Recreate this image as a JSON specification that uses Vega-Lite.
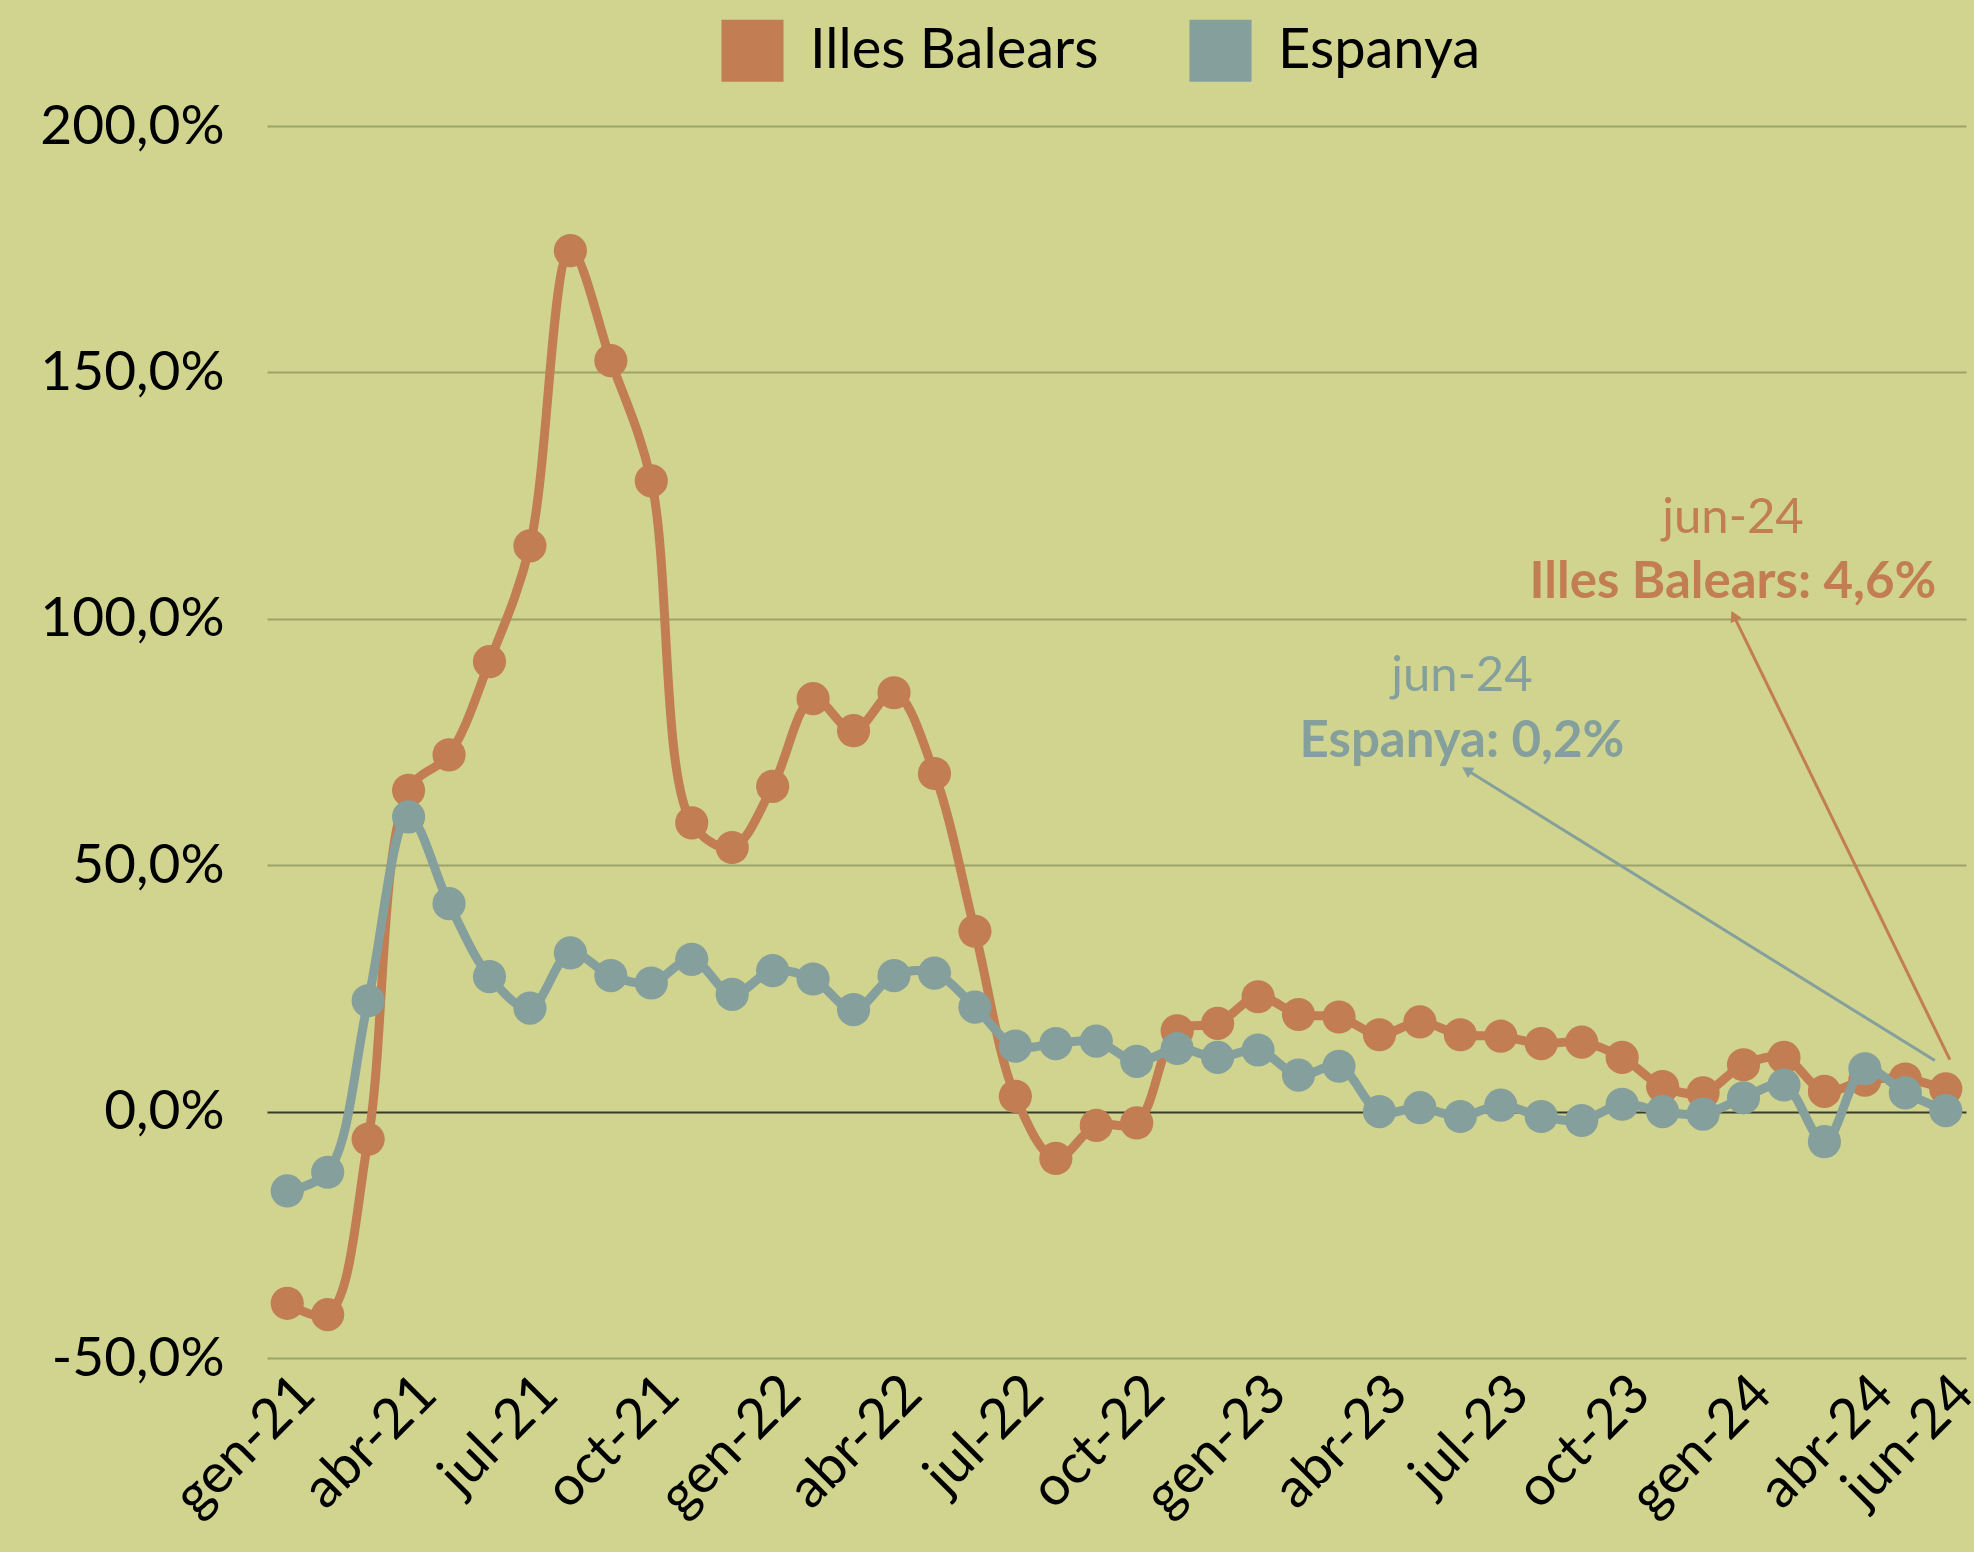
{
  "$schema": "https://vega.github.io/schema/vega-lite/v6.json",
  "background": "#D0D48E",
  "autosize": "none",
  "padding": {"left": 267, "top": 126, "right": 8, "bottom": 194},
  "width": 1699,
  "height": 1232,
  "config": {
    "view": {"stroke": null},
    "font": "Lato",
    "axis": {"labelFont": "Lato", "labelFontSize": 55, "labelColor": "#000000", "labelLimit": 0, "domain": false, "ticks": false, "title": null}
  },
  "datasets": {
    "dades": [
      {"n":0,"mes":"gen-21","serie":"Illes Balears","valor":-38.9},
      {"n":1,"mes":"feb-21","serie":"Illes Balears","valor":-41.2},
      {"n":2,"mes":"mar-21","serie":"Illes Balears","valor":-5.6},
      {"n":3,"mes":"abr-21","serie":"Illes Balears","valor":65.2},
      {"n":4,"mes":"mai-21","serie":"Illes Balears","valor":72.4},
      {"n":5,"mes":"jun-21","serie":"Illes Balears","valor":91.3},
      {"n":6,"mes":"jul-21","serie":"Illes Balears","valor":114.8},
      {"n":7,"mes":"ago-21","serie":"Illes Balears","valor":174.7},
      {"n":8,"mes":"set-21","serie":"Illes Balears","valor":152.4},
      {"n":9,"mes":"oct-21","serie":"Illes Balears","valor":128.0},
      {"n":10,"mes":"nov-21","serie":"Illes Balears","valor":58.6},
      {"n":11,"mes":"des-21","serie":"Illes Balears","valor":53.6},
      {"n":12,"mes":"gen-22","serie":"Illes Balears","valor":66.0},
      {"n":13,"mes":"feb-22","serie":"Illes Balears","valor":83.8},
      {"n":14,"mes":"mar-22","serie":"Illes Balears","valor":77.3},
      {"n":15,"mes":"abr-22","serie":"Illes Balears","valor":85.0},
      {"n":16,"mes":"mai-22","serie":"Illes Balears","valor":68.6},
      {"n":17,"mes":"jun-22","serie":"Illes Balears","valor":36.6},
      {"n":18,"mes":"jul-22","serie":"Illes Balears","valor":3.1},
      {"n":19,"mes":"ago-22","serie":"Illes Balears","valor":-9.5},
      {"n":20,"mes":"set-22","serie":"Illes Balears","valor":-2.8},
      {"n":21,"mes":"oct-22","serie":"Illes Balears","valor":-2.3},
      {"n":22,"mes":"nov-22","serie":"Illes Balears","valor":16.4},
      {"n":23,"mes":"des-22","serie":"Illes Balears","valor":17.9},
      {"n":24,"mes":"gen-23","serie":"Illes Balears","valor":23.3},
      {"n":25,"mes":"feb-23","serie":"Illes Balears","valor":19.7},
      {"n":26,"mes":"mar-23","serie":"Illes Balears","valor":19.2},
      {"n":27,"mes":"abr-23","serie":"Illes Balears","valor":15.6},
      {"n":28,"mes":"mai-23","serie":"Illes Balears","valor":18.2},
      {"n":29,"mes":"jun-23","serie":"Illes Balears","valor":15.6},
      {"n":30,"mes":"jul-23","serie":"Illes Balears","valor":15.3},
      {"n":31,"mes":"ago-23","serie":"Illes Balears","valor":13.8},
      {"n":32,"mes":"set-23","serie":"Illes Balears","valor":14.1},
      {"n":33,"mes":"oct-23","serie":"Illes Balears","valor":11.0},
      {"n":34,"mes":"nov-23","serie":"Illes Balears","valor":5.1},
      {"n":35,"mes":"des-23","serie":"Illes Balears","valor":3.8},
      {"n":36,"mes":"gen-24","serie":"Illes Balears","valor":9.5},
      {"n":37,"mes":"feb-24","serie":"Illes Balears","valor":11.0},
      {"n":38,"mes":"mar-24","serie":"Illes Balears","valor":4.1},
      {"n":39,"mes":"abr-24","serie":"Illes Balears","valor":6.4},
      {"n":40,"mes":"mai-24","serie":"Illes Balears","valor":6.6},
      {"n":41,"mes":"jun-24","serie":"Illes Balears","valor":4.6},
      {"n":0,"mes":"gen-21","serie":"Espanya","valor":-16.1},
      {"n":1,"mes":"feb-21","serie":"Espanya","valor":-12.3},
      {"n":2,"mes":"mar-21","serie":"Espanya","valor":22.5},
      {"n":3,"mes":"abr-21","serie":"Espanya","valor":59.8},
      {"n":4,"mes":"mai-21","serie":"Espanya","valor":42.2},
      {"n":5,"mes":"jun-21","serie":"Espanya","valor":27.4},
      {"n":6,"mes":"jul-21","serie":"Espanya","valor":21.0},
      {"n":7,"mes":"ago-21","serie":"Espanya","valor":32.2},
      {"n":8,"mes":"set-21","serie":"Espanya","valor":27.6},
      {"n":9,"mes":"oct-21","serie":"Espanya","valor":26.1},
      {"n":10,"mes":"nov-21","serie":"Espanya","valor":30.9},
      {"n":11,"mes":"des-21","serie":"Espanya","valor":23.8},
      {"n":12,"mes":"gen-22","serie":"Espanya","valor":28.6},
      {"n":13,"mes":"feb-22","serie":"Espanya","valor":26.9},
      {"n":14,"mes":"mar-22","serie":"Espanya","valor":20.7},
      {"n":15,"mes":"abr-22","serie":"Espanya","valor":27.6},
      {"n":16,"mes":"mai-22","serie":"Espanya","valor":28.1},
      {"n":17,"mes":"jun-22","serie":"Espanya","valor":21.2},
      {"n":18,"mes":"jul-22","serie":"Espanya","valor":13.3},
      {"n":19,"mes":"ago-22","serie":"Espanya","valor":13.8},
      {"n":20,"mes":"set-22","serie":"Espanya","valor":14.3},
      {"n":21,"mes":"oct-22","serie":"Espanya","valor":10.2},
      {"n":22,"mes":"nov-22","serie":"Espanya","valor":12.8},
      {"n":23,"mes":"des-22","serie":"Espanya","valor":11.0},
      {"n":24,"mes":"gen-23","serie":"Espanya","valor":12.5},
      {"n":25,"mes":"feb-23","serie":"Espanya","valor":7.4},
      {"n":26,"mes":"mar-23","serie":"Espanya","valor":9.2},
      {"n":27,"mes":"abr-23","serie":"Espanya","valor":0.0},
      {"n":28,"mes":"mai-23","serie":"Espanya","valor":0.8},
      {"n":29,"mes":"jun-23","serie":"Espanya","valor":-1.0},
      {"n":30,"mes":"jul-23","serie":"Espanya","valor":1.3},
      {"n":31,"mes":"ago-23","serie":"Espanya","valor":-1.0},
      {"n":32,"mes":"set-23","serie":"Espanya","valor":-1.8},
      {"n":33,"mes":"oct-23","serie":"Espanya","valor":1.5},
      {"n":34,"mes":"nov-23","serie":"Espanya","valor":0.0},
      {"n":35,"mes":"des-23","serie":"Espanya","valor":-0.5},
      {"n":36,"mes":"gen-24","serie":"Espanya","valor":2.8},
      {"n":37,"mes":"feb-24","serie":"Espanya","valor":5.4},
      {"n":38,"mes":"mar-24","serie":"Espanya","valor":-6.1},
      {"n":39,"mes":"abr-24","serie":"Espanya","valor":8.7},
      {"n":40,"mes":"mai-24","serie":"Espanya","valor":3.8},
      {"n":41,"mes":"jun-24","serie":"Espanya","valor":0.2}
    ],
    "notes": [
      {"serie":"Illes Balears","tipus":"data","x":35.74,"y":120.5,"text":"jun-24"},
      {"serie":"Illes Balears","tipus":"valor","x":35.74,"y":107.3,"text":"Illes Balears: 4,6%"},
      {"serie":"Espanya","tipus":"data","x":29.04,"y":88.3,"text":"jun-24"},
      {"serie":"Espanya","tipus":"valor","x":29.04,"y":75.1,"text":"Espanya: 0,2%"}
    ],
    "fletxes": [
      {"serie":"Illes Balears","x0":41.1,"y0":10.55,"x1":35.76,"y1":100.6},
      {"serie":"Espanya","x0":40.73,"y0":10.35,"x1":29.16,"y1":69.3}
    ]
  },
  "encoding": {
    "x": {
      "field": "n", "type": "quantitative",
      "scale": {"domain": [-0.5, 41.5], "nice": false, "zero": false},
      "axis": {
        "values": [0,3,6,9,12,15,18,21,24,27,30,33,36,39,41],
        "grid": false, "labelAngle": -45, "labelAlign": "right", "labelBaseline": "top", "labelPadding": 8,
        "labelOverlap": false, "labelBound": false, "labelFlush": false,
        "labelExpr": "['gen-21','feb-21','mar-21','abr-21','mai-21','jun-21','jul-21','ago-21','set-21','oct-21','nov-21','des-21','gen-22','feb-22','mar-22','abr-22','mai-22','jun-22','jul-22','ago-22','set-22','oct-22','nov-22','des-22','gen-23','feb-23','mar-23','abr-23','mai-23','jun-23','jul-23','ago-23','set-23','oct-23','nov-23','des-23','gen-24','feb-24','mar-24','abr-24','mai-24','jun-24'][datum.value]"
      }
    },
    "y": {
      "field": "valor", "type": "quantitative",
      "scale": {"domain": [-50, 200], "nice": false, "zero": false},
      "axis": {
        "values": [-50,0,50,100,150,200],
        "grid": true,
        "gridColor": {"condition": {"test": "datum.value === 0", "value": "#3a3a2a"}, "value": "#9CA268"},
        "gridWidth": 2,
        "labelPadding": 43,
        "labelExpr": "replace(replace(format(datum.value, '.1f'), '.', ','), '\u2212', '-') + '%'"
      }
    }
  },
  "layer": [
    {
      "data": {"name": "dades"},
      "transform": [{"filter": "datum.serie === 'Illes Balears'"}],
      "mark": {"type": "line", "interpolate": "catmull-rom", "strokeWidth": 9, "color": "#C27D52"}
    },
    {
      "data": {"name": "dades"},
      "transform": [{"filter": "datum.serie === 'Illes Balears'"}],
      "mark": {"type": "point", "filled": true, "size": 1100, "opacity": 1, "shape": "circle"},
      "encoding": {
        "color": {
          "field": "serie", "type": "nominal",
          "scale": {"domain": ["Illes Balears", "Espanya"], "range": ["#C27D52", "#85A09C"]},
          "legend": {
            "orient": "none", "legendX": 454, "legendY": -107, "direction": "horizontal",
            "title": null, "symbolType": "square", "symbolSize": 3850, "symbolStrokeWidth": 0,
            "labelFont": "Lato", "labelFontSize": 56, "labelColor": "#000000", "labelOffset": 26, "labelLimit": 0,
            "columnPadding": 90, "padding": 0
          }
        }
      }
    },
    {
      "data": {"name": "dades"},
      "transform": [{"filter": "datum.serie === 'Espanya'"}],
      "mark": {"type": "line", "interpolate": "catmull-rom", "strokeWidth": 9, "color": "#85A09C"}
    },
    {
      "data": {"name": "dades"},
      "transform": [{"filter": "datum.serie === 'Espanya'"}],
      "mark": {"type": "point", "filled": true, "size": 1100, "opacity": 1, "shape": "circle"},
      "encoding": {"color": {"field": "serie", "type": "nominal"}}
    },
    {
      "data": {"name": "fletxes"},
      "mark": {"type": "rule", "strokeWidth": 3},
      "encoding": {
        "x": {"field": "x0", "type": "quantitative"},
        "y": {"field": "y0", "type": "quantitative"},
        "x2": {"field": "x1"},
        "y2": {"field": "y1"},
        "color": {"field": "serie", "type": "nominal", "legend": null}
      }
    },
    {
      "data": {"name": "fletxes"},
      "transform": [{"filter": "datum.serie === 'Illes Balears'"}],
      "mark": {"type": "point", "shape": "triangle-up", "filled": true, "size": 150, "angle": 334, "opacity": 1},
      "encoding": {
        "x": {"field": "x1", "type": "quantitative"},
        "y": {"field": "y1", "type": "quantitative"},
        "color": {"field": "serie", "type": "nominal", "legend": null}
      }
    },
    {
      "data": {"name": "fletxes"},
      "transform": [{"filter": "datum.serie === 'Espanya'"}],
      "mark": {"type": "point", "shape": "triangle-up", "filled": true, "size": 150, "angle": 302, "opacity": 1},
      "encoding": {
        "x": {"field": "x1", "type": "quantitative"},
        "y": {"field": "y1", "type": "quantitative"},
        "color": {"field": "serie", "type": "nominal", "legend": null}
      }
    },
    {
      "data": {"name": "notes"},
      "transform": [{"filter": "datum.tipus === 'data'"}],
      "mark": {"type": "text", "font": "Lato", "fontSize": 49, "fontWeight": "normal", "align": "center", "baseline": "middle"},
      "encoding": {
        "x": {"field": "x", "type": "quantitative"},
        "y": {"field": "y", "type": "quantitative"},
        "text": {"field": "text"},
        "color": {"field": "serie", "type": "nominal", "legend": null}
      }
    },
    {
      "data": {"name": "notes"},
      "transform": [{"filter": "datum.tipus === 'valor'"}],
      "mark": {"type": "text", "font": "Lato", "fontSize": 51, "fontWeight": "bold", "align": "center", "baseline": "middle"},
      "encoding": {
        "x": {"field": "x", "type": "quantitative"},
        "y": {"field": "y", "type": "quantitative"},
        "text": {"field": "text"},
        "color": {"field": "serie", "type": "nominal", "legend": null}
      }
    }
  ]
}
